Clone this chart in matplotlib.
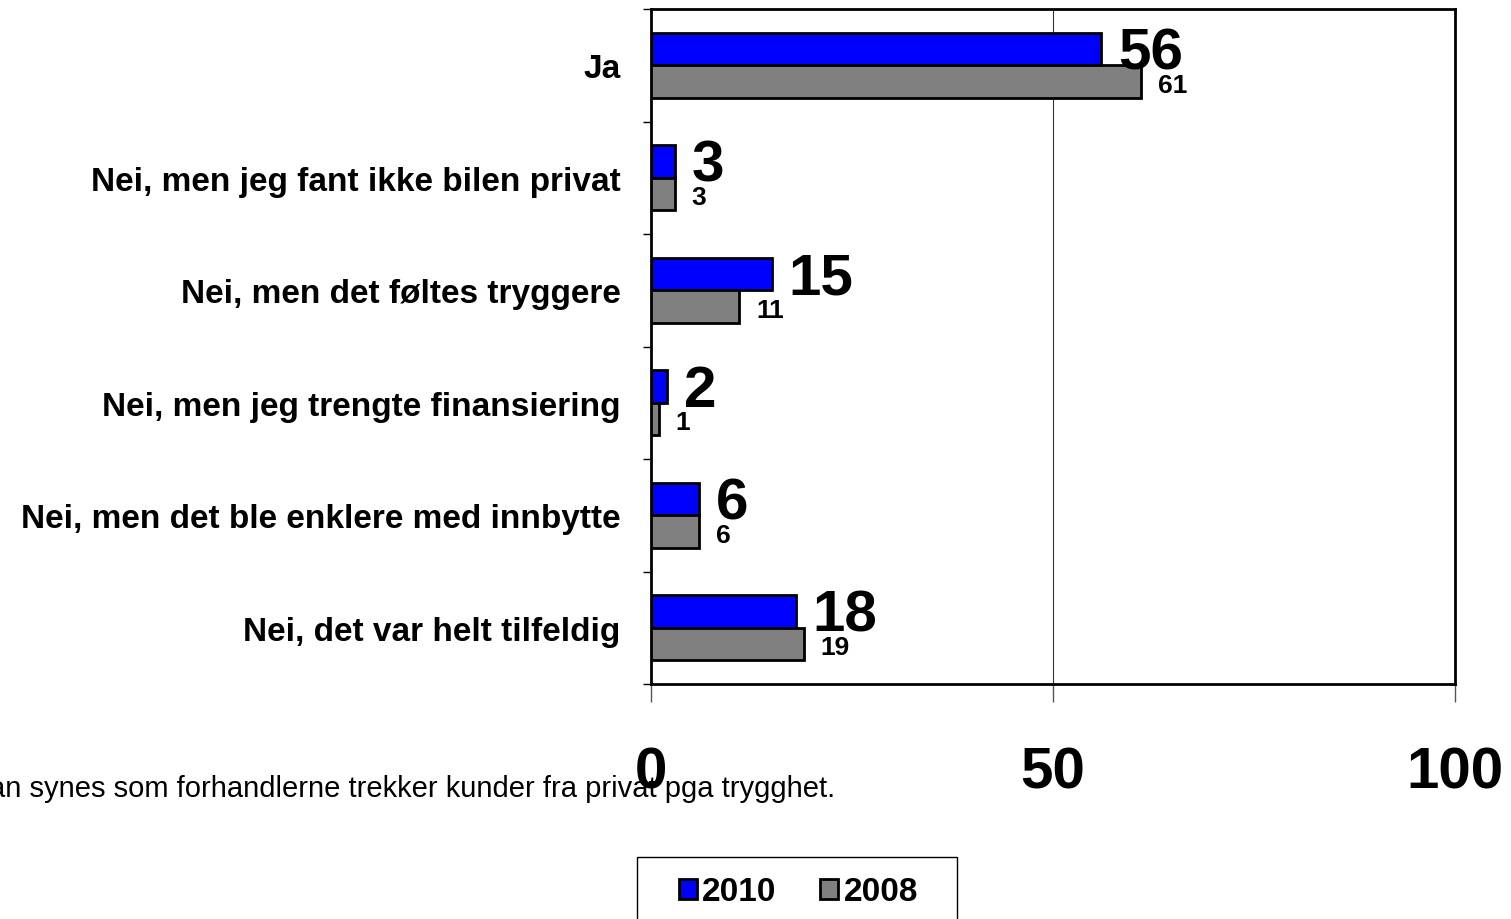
import matplotlib.pyplot as plt
from matplotlib.patches import Rectangle
import numpy as np

# Données du graphique
kategorier = ["Ja",
              "Nei, men jeg fant ikke bilen privat",
              "Nei, men det føltes tryggere",
              "Nei, men jeg trengte finansiering",
              "Nei, men det ble enklere med innbytte",
              "Nei, det var helt tilfeldig"]
verdier_2010 = [56, 3, 15, 2, 6, 18]
verdier_2008 = [61, 3, 11, 1, 6, 19]
x_ticks = [0, 50, 100]
fotnote = "an synes som forhandlerne trekker kunder fra privat pga trygghet."

plt.rcParams['font.family'] = ['Liberation Sans', 'DejaVu Sans']

W, H = 1511, 920
fig = plt.figure(figsize=(W / 100, H / 100), dpi=100)
ax = fig.add_axes([651 / W, 1 - 685 / H, 804 / W, 675 / H])

y = np.arange(len(kategorier))
h = 0.29
ax.barh(y - h / 2, verdier_2010, height=h, color="#0000ff", edgecolor="black",
        linewidth=2, label="2010", zorder=3)
ax.barh(y + h / 2, verdier_2008, height=h, color="#808080", edgecolor="black",
        linewidth=2, label="2008", zorder=3)

for i in range(len(kategorier)):
    ax.annotate(str(verdier_2010[i]), (verdier_2010[i], y[i] - h / 2),
                xytext=(12, -3), textcoords="offset points", va="center", ha="left",
                fontsize=42, fontweight="bold", zorder=4)
    ax.annotate(str(verdier_2008[i]), (verdier_2008[i], y[i] + h / 2 + 0.03),
                xytext=(12, 0), textcoords="offset points", va="center", ha="left",
                fontsize=19, fontweight="bold", zorder=4)

ax.set_xlim(0, 100)
ax.set_ylim(len(kategorier) - 0.5, -0.5)
ax.set_xticks(x_ticks)
ax.set_xticklabels([str(v) for v in x_ticks], fontsize=42, fontweight="bold")
ax.set_yticks(np.arange(len(kategorier) + 1) - 0.5, minor=True)
ax.set_yticks(y)
ax.set_yticklabels(kategorier, fontsize=24, fontweight="bold")
ax.tick_params(axis="y", which="major", length=0, pad=22)
ax.tick_params(axis="y", which="minor", length=6, width=1)
ax.tick_params(axis="x", length=13, width=1, color="#555555", pad=31)
ax.axvline(50, color="#333333", linewidth=0.8, zorder=1)
for s in ax.spines.values():
    s.set_linewidth(2)

fig.text(835 / W, 1 - 797 / H, fotnote, ha="right", va="baseline", fontsize=21)

# cadre de la légende
fig.patches.append(Rectangle((637 / W, -0.01), 320 / W, 0.01 + 1 - 858 / H,
                             transform=fig.transFigure, facecolor="white",
                             edgecolor="black", linewidth=1, zorder=1))
fig.legend(loc="center left", bbox_to_anchor=(679 / W, 1 - 893 / H),
           borderaxespad=0, borderpad=0, ncol=2, prop={"weight": "bold", "size": 24},
           frameon=False, handlelength=0.55, handleheight=0.55,
           handletextpad=0.15, columnspacing=1.3)

fig.savefig("out.png", dpi=100)
